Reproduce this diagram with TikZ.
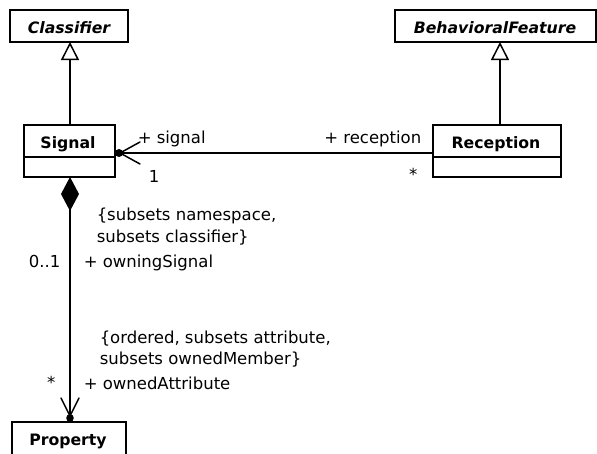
\documentclass[tikz,border=0pt]{standalone}
\usepackage{fontspec}
\setmainfont{DejaVu Sans}
\usetikzlibrary{calc,arrows.meta}
\begin{document}
\begin{tikzpicture}[x=1pt,y=-1pt,line width=1.5pt,
  classbox/.style={draw,line width=1.5pt,inner sep=0pt,outer sep=0pt,anchor=north west},
  cname/.style={font=\fontsize{15.7}{18}\selectfont\bfseries,inner sep=0pt,anchor=base},
  lbl/.style={font=\fontsize{16.5}{20}\selectfont,inner sep=0pt,anchor=base west},
  lblr/.style={font=\fontsize{16.5}{20}\selectfont,inner sep=0pt,anchor=base east},
  gen/.style={-{Triangle[open,length=18pt,width=18pt,line width=1.5pt]}},
  barb/.style={line width=1.5pt,line cap=round}]
\useasboundingbox (0,0) rectangle (597,453);
\clip (0,0) rectangle (597,453);
% classes
\node[classbox,minimum width=118,minimum height=32] (classifier) at (10,10) {};
\node[cname] (classifiername) at (69,33) {\itshape Classifier};
\node[classbox,minimum width=201,minimum height=32] (behavioralfeature) at (395,10) {};
\node[cname] (behavioralfeaturename) at (495,33) {\itshape BehavioralFeature};
\node[classbox,minimum width=91,minimum height=52] (signal) at (24,125) {};
\node[cname] (signalname) at (68,148) {Signal};
\draw (signal.west |- 0,157) -- (signal.east |- 0,157);
\node[classbox,minimum width=128,minimum height=52] (reception) at (433,125) {};
\node[cname] (receptionname) at (496,148) {Reception};
\draw (reception.west |- 0,157) -- (reception.east |- 0,157);
\node[classbox,minimum width=114,minimum height=45] (property) at (12,422) {};
\node[cname] (propertyname) at (68,445) {Property};
% generalizations
\coordinate (sg) at (70,125);
\draw[gen] (sg) -- (sg |- classifier.south);
\coordinate (rg) at (500,125);
\draw[gen] (rg) -- (rg |- behavioralfeature.south);
% association Signal - Reception
\coordinate (sa) at (signal.east |- 0,153);
\coordinate (ra) at (reception.west |- 0,153);
\draw (ra) -- (sa);
\fill ($(sa)+(4,0)$) circle (4);
\draw[barb] ($(sa)+(5,0)$) -- ++(20,-11);
\draw[barb] ($(sa)+(5,0)$) -- ++(20,11);
\node[lbl] (lsignal) at (137,143) {+ signal};
\node[lbl] (lone) at (148,182) {1};
\node[lblr] (lreception) at (422,143) {+ reception};
\node[lblr] (lstar1) at (418,180) {*};
% composition Signal - Property
\coordinate (sc) at (70,177);
\coordinate (pc) at (sc |- property.north);
\draw[{Diamond[length=34pt,width=18pt]}-] (sc) -- (pc);
\fill ($(pc)+(0,-4)$) circle (3.8);
\draw[barb] ($(pc)+(0,-6)$) -- ++(-9,-18);
\draw[barb] ($(pc)+(0,-6)$) -- ++(9,-18);
\node[lbl] (c1) at (96,220) {\{subsets namespace,};
\node[lbl] (c2) at (96,242) {subsets classifier\}};
\node[lbl] (owning) at (83,267) {+ owningSignal};
\node[lblr] (m01) at (61,267) {0..1};
\node[lbl] (c3) at (99,343) {\{ordered, subsets attribute,};
\node[lbl] (c4) at (99,364) {subsets ownedMember\}};
\node[lbl] (owned) at (83,389) {+ ownedAttribute};
\node[lblr] (lstar2) at (56,388) {*};
\end{tikzpicture}
\end{document}
